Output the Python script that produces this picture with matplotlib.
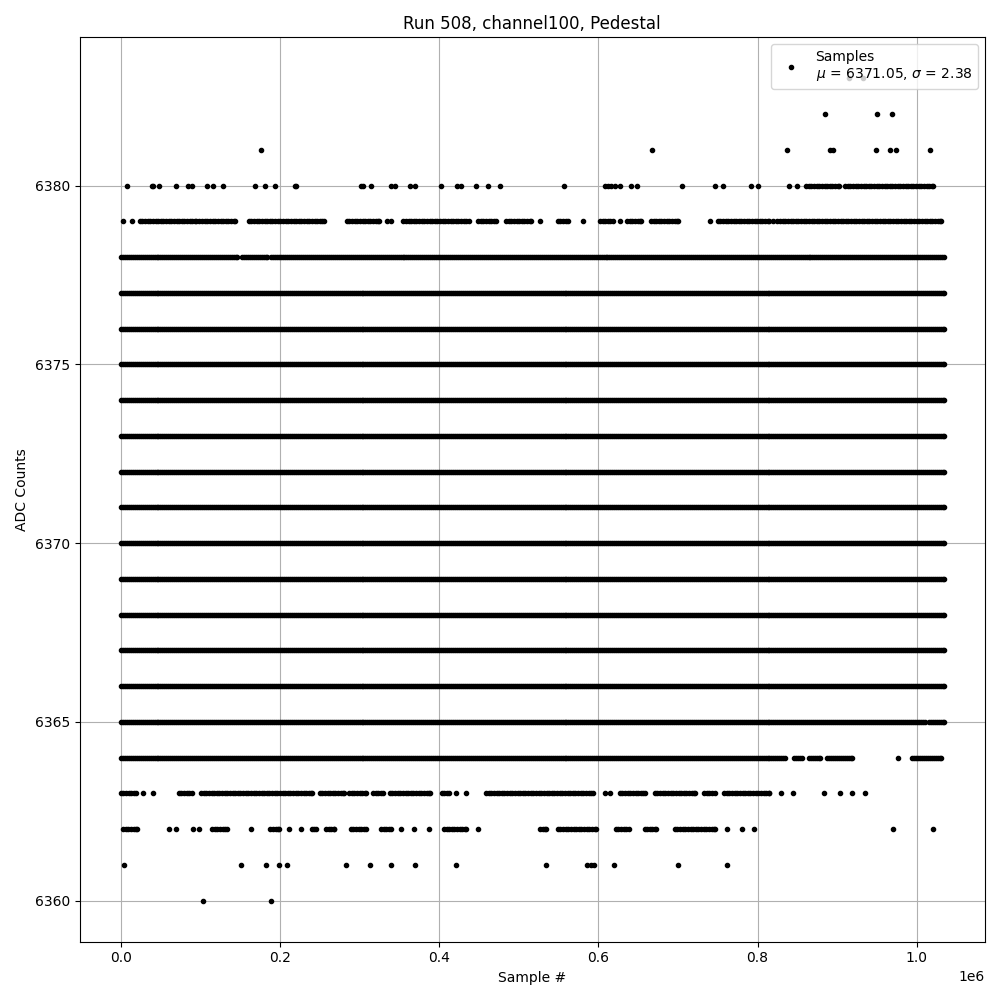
import numpy as np
import matplotlib
matplotlib.use('Agg')
from matplotlib import pyplot as plt

# ADC samples: for each ADC level a list of
# (first sample, last sample) runs, in thousands of samples.
# A run with first == last is a single sample.
runs_6360 = [(104, 104), (189, 189)]
runs_6361 = [(4, 4), (151, 151), (183, 183), (199, 199), (209, 209), (283, 283),
             (313, 313), (339, 339), (370, 370), (421, 421), (534, 534), (586, 586),
             (591, 591), (595, 595), (620, 620), (700, 700), (762, 762)]
runs_6362 = [(3, 20), (61, 61), (70, 70), (91, 91), (99, 99), (115, 133), (164, 164),
             (188, 199), (212, 212), (227, 227), (240, 245), (258, 268), (289, 308),
             (327, 340), (352, 352), (368, 368), (387, 387), (406, 434), (449, 449),
             (527, 534), (549, 597), (622, 638), (658, 672), (696, 746), (762, 762),
             (780, 780), (796, 796), (970, 970), (1021, 1021)]
runs_6363 = [(0, 19), (28, 28), (41, 41), (73, 89), (101, 240), (250, 280), (287, 308),
             (317, 330), (338, 389), (403, 412), (421, 421), (434, 434), (459, 593),
             (608, 608), (615, 615), (627, 658), (671, 722), (733, 746), (758, 815),
             (829, 829), (845, 845), (884, 884), (904, 904), (919, 919), (935, 935)]
runs_6364 = [(0, 835), (846, 856), (865, 879), (887, 919), (976, 976), (994, 1031)]
runs_6365 = [(0, 1010), (1015, 1034)]
runs_full = [(0, 1034)]  # 6366 .. 6377 are filled all the way
runs_6378 = [(0, 146), (153, 184), (189, 1034)]
runs_6379 = [(3, 3), (14, 14), (24, 95), (99, 143), (161, 255), (284, 324), (335, 335),
             (340, 340), (355, 437), (449, 472), (484, 516), (527, 527), (549, 562),
             (581, 581), (602, 618), (627, 627), (636, 653), (666, 700), (740, 740),
             (750, 815), (819, 819), (825, 1031)]
runs_6380 = [(8, 8), (39, 39), (40, 40), (48, 48), (70, 70), (84, 84), (90, 90),
             (108, 108), (116, 116), (128, 128), (169, 169), (181, 181), (194, 194),
             (219, 219), (220, 220), (302, 302), (305, 305), (314, 314), (340, 340),
             (344, 344), (364, 364), (370, 370), (402, 402), (422, 422), (427, 427),
             (446, 446), (461, 461), (477, 477), (557, 557), (608, 608), (612, 612),
             (616, 616), (621, 621), (627, 627), (641, 641), (648, 648), (705, 705),
             (746, 746), (756, 756), (792, 792), (801, 801), (839, 839), (849, 849),
             (861, 902), (910, 1020)]
runs_6381 = [(176, 176), (667, 667), (837, 837), (891, 891), (895, 895), (949, 949),
             (966, 966), (974, 974), (1016, 1016)]
runs_6382 = [(885, 885), (950, 950), (969, 969)]
runs_6383 = [(915, 915), (932, 932)]

levels = list(range(6360, 6384))
level_runs = [runs_6360, runs_6361, runs_6362, runs_6363, runs_6364, runs_6365] \
    + [runs_full] * 12 \
    + [runs_6378, runs_6379, runs_6380, runs_6381, runs_6382, runs_6383]

mean_adc = 6371.05
std_adc = 2.38

# expand runs into sample points; the busy middle levels are packed tighter
xs, ys = [], []
for level, runs in zip(levels, level_runs):
    step = 2.5 if 6364 <= level <= 6378 else 3.3
    for first, last in runs:
        if last > first:
            pts = np.append(np.arange(first, last, step), last)
        else:
            pts = np.array([first])
        xs.append(pts * 1000)
        ys.append(np.full(len(pts), level))
x = np.concatenate(xs)
y = np.concatenate(ys)

fig, ax = plt.subplots(figsize=(10, 10), dpi=100)
ax.plot(x, y, 'k.', label='Samples\n$\\mu$ = %.2f, $\\sigma$ = %.2f' % (mean_adc, std_adc))
ax.set_title('Run 508, channel100, Pedestal')
ax.set_xlabel('Sample #')
ax.set_ylabel('ADC Counts')
ax.set_yticks([6360, 6365, 6370, 6375, 6380])
ax.grid(True)
ax.legend(loc='upper right')
fig.tight_layout()
fig.savefig('out.png')
